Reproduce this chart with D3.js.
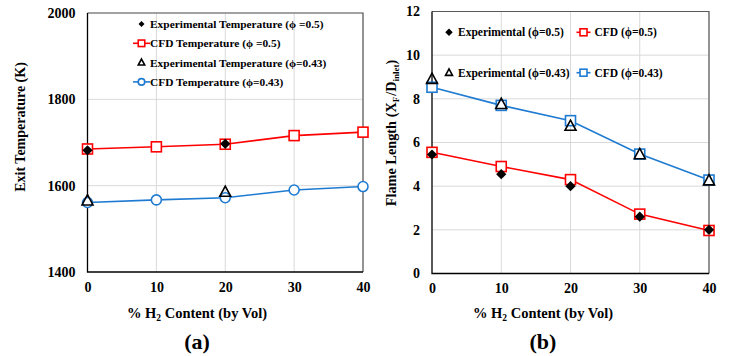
<!DOCTYPE html>
<html><head><meta charset="utf-8">
<script src="https://cdn.jsdelivr.net/npm/d3@7/dist/d3.min.js"></script>
<style>body{margin:0;background:#fff}svg{display:block}svg text{font-family:"Liberation Serif","Times New Roman","DejaVu Serif",serif !important;font-weight:bold !important;fill:#000}</style>
</head><body><svg id="c" width="733" height="356"></svg>
<script>
const h2 = [0, 10, 20, 30, 40];
const xTicks = [0, 10, 20, 30, 40];
// Panel (a): exit temperature
const tempTicks = [1400, 1600, 1800, 2000];
const expTemp05 = [[0, 1682], [20, 1697]];
const cfdTemp05 = [1685, 1690, 1696, 1716, 1724];
const expTemp043 = [[0, 1565], [20, 1585]];
const cfdTemp043 = [1561, 1567, 1572, 1590, 1598];
// Panel (b): flame length
const flameTicks = [0, 2, 4, 6, 8, 10, 12];
const expFlame05 = [5.45, 4.55, 4.0, 2.6, 2.0];
const cfdFlame05 = [5.55, 4.9, 4.3, 2.72, 1.97];
const expFlame043 = [8.9, 7.75, 6.75, 5.45, 4.25];
const cfdFlame043 = [8.53, 7.7, 7.0, 5.47, 4.28];

const RED = "#ff0000", BLUE = "#1f7bd2";
const FONT = '"Liberation Serif","Times New Roman",serif';
const svg = d3.select("#c");

function marker(g, type, x, y, s, color) {
  if (type === "square") g.append("rect").attr("x", x - s/2).attr("y", y - s/2).attr("width", s).attr("height", s).attr("fill", "#fff").attr("stroke", color).attr("stroke-width", 1.6);
  else if (type === "circle") g.append("circle").attr("cx", x).attr("cy", y).attr("r", s/2).attr("fill", "#fff").attr("stroke", color).attr("stroke-width", 1.6);
  else if (type === "diamond") g.append("path").attr("d", d3.symbol(d3.symbolDiamond2, s*s*0.55)()).attr("transform", `translate(${x},${y})`).attr("fill", "#000");
  else if (type === "triangle") g.append("path").attr("d", `M${x},${y - s*0.55}L${x + s*0.5},${y + s*0.38}L${x - s*0.5},${y + s*0.38}Z`).attr("fill", "none").attr("stroke", "#000").attr("stroke-width", 1.6);
}

function panel(o) {
  const x = d3.scaleLinear().domain([0, 40]).range([o.x0, o.x1]);
  const y = d3.scaleLinear().domain(o.yDomain).range([o.y1, o.y0]);
  const g = svg.append("g");
  g.selectAll(".gx").data(xTicks.slice(1)).join("line").attr("x1", d => x(d)).attr("x2", d => x(d)).attr("y1", o.y0).attr("y2", o.y1).attr("stroke", "#d9d9d9");
  g.selectAll(".gy").data(o.yTicks.slice(1)).join("line").attr("y1", d => y(d)).attr("y2", d => y(d)).attr("x1", o.x0).attr("x2", o.x1).attr("stroke", "#d9d9d9");
  g.append("path").attr("d", `M${o.x0},${o.y0}H${o.x1}V${o.y1}`).attr("fill", "none").attr("stroke", "#595959").attr("stroke-width", 1.2);
  g.append("path").attr("d", `M${o.x0},${o.y0}V${o.y1}H${o.x1}`).attr("fill", "none").attr("stroke", "#000").attr("stroke-width", 1.3);
  const ax = g.append("g").attr("transform", `translate(0,${o.y1})`).call(d3.axisBottom(x).tickValues(xTicks).tickFormat(d3.format("d")).tickSize(0).tickPadding(10));
  ax.attr("font-family", FONT).attr("font-size", 14);
  ax.select(".domain").remove();
  const ay = g.append("g").attr("transform", `translate(${o.x0},0)`).call(d3.axisLeft(y).tickValues(o.yTicks).tickFormat(d3.format("d")).tickSize(0).tickPadding(o.yPad));
  ay.attr("font-family", FONT).attr("font-size", 14);
  ay.select(".domain").remove();
  const line = d3.line().x(d => x(d[0])).y(d => y(d[1]));
  o.cfd.forEach(s => {
    const pts = h2.map((h, i) => [h, s.v[i]]);
    g.append("path").attr("d", line(pts)).attr("fill", "none").attr("stroke", s.color).attr("stroke-width", 1.6);
    pts.forEach(p => marker(g, s.m, x(p[0]), y(p[1]), 10, s.color));
  });
  o.exp.forEach(s => s.v.forEach(p => marker(g, s.m, x(p[0]), y(p[1]), 11, "#000")));
  const xt = g.append("text").attr("x", o.xtX).attr("y", 318).attr("text-anchor", "middle").attr("font-size", 14.5);
  xt.append("tspan").text("% H");
  xt.append("tspan").attr("font-size", 9.5).attr("dy", 3).text("2");
  xt.append("tspan").attr("dy", -3).text(" Content (by Vol)");
  g.append("text").attr("x", o.xtX).attr("y", 349).attr("text-anchor", "middle").attr("font-size", 22).text(o.tag);
  return {x, y, g};
}

const A = panel({x0: 87.5, x1: 363, y0: 13, y1: 272, yDomain: [1400, 2000], yTicks: tempTicks, yPad: 12, xtX: 197, tag: "(a)",
  cfd: [{v: cfdTemp05, color: RED, m: "square"}, {v: cfdTemp043, color: BLUE, m: "circle"}],
  exp: [{v: expTemp05, m: "diamond"}, {v: expTemp043, m: "triangle"}]});
A.g.append("text").attr("transform", "translate(25,127) rotate(-90)").attr("text-anchor", "middle").attr("font-size", 14).text("Exit Temperature (K)");
const legA = [
  {t: "Experimental Temperature (ϕ =0.5)", m: "diamond", c: "#000", line: false},
  {t: "CFD Temperature (ϕ =0.5)", m: "square", c: RED, line: true},
  {t: "Experimental Temperature (ϕ=0.43)", m: "triangle", c: "#000", line: false},
  {t: "CFD Temperature (ϕ=0.43)", m: "circle", c: BLUE, line: true}];
legA.forEach((d, i) => {
  const yy = 24 + i * 19.3;
  if (d.line) A.g.append("line").attr("x1", 133).attr("x2", 150).attr("y1", yy).attr("y2", yy).attr("stroke", d.c).attr("stroke-width", 1.6);
  marker(A.g, d.m, 141.5, yy, 6.5, d.c);
  A.g.append("text").attr("x", 150).attr("y", yy + 4).attr("font-size", 11.4).text(d.t);
});

const B = panel({x0: 432, x1: 709, y0: 11.5, y1: 273.5, yDomain: [0, 12], yTicks: flameTicks, yPad: 12, xtX: 543, tag: "(b)",
  cfd: [{v: cfdFlame05, color: RED, m: "square"}, {v: cfdFlame043, color: BLUE, m: "square"}],
  exp: [{v: h2.map((h, i) => [h, expFlame05[i]]), m: "diamond"}, {v: h2.map((h, i) => [h, expFlame043[i]]), m: "triangle"}]});
const yt = B.g.append("text").attr("transform", "translate(396,133) rotate(-90)").attr("text-anchor", "middle").attr("font-size", 14.3);
yt.append("tspan").text("Flame Length (X");
yt.append("tspan").attr("font-size", 9).attr("dy", 3).text("F");
yt.append("tspan").attr("dy", -3).attr("dx", 1).text("/D");
yt.append("tspan").attr("font-size", 9).attr("dy", 3).text("inlet");
yt.append("tspan").attr("dy", -3).text(")");
const legB = [
  {t: "Experimental (ϕ=0.5)", m: "diamond", c: "#000", line: false, x: 449, y: 32.3},
  {t: "CFD (ϕ=0.5)", m: "square", c: RED, line: true, x: 583.5, y: 32.3},
  {t: "Experimental (ϕ=0.43)", m: "triangle", c: "#000", line: false, x: 449, y: 72.7},
  {t: "CFD (ϕ=0.43)", m: "square", c: BLUE, line: true, x: 583.5, y: 72.7}];
legB.forEach(d => {
  if (d.line) B.g.append("line").attr("x1", d.x - 7).attr("x2", d.x + 7).attr("y1", d.y).attr("y2", d.y).attr("stroke", d.c).attr("stroke-width", 1.6);
  marker(B.g, d.m, d.x, d.y, d.m === "diamond" ? 8 : 7, d.c);
  B.g.append("text").attr("x", d.x + (d.line ? 11 : 9)).attr("y", d.y + 4).attr("font-size", 11.5).text(d.t);
});
</script></body></html>
